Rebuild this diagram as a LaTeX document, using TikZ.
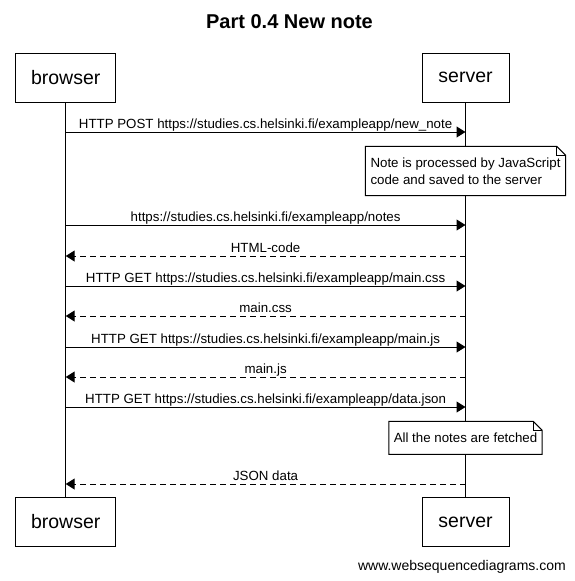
\documentclass[tikz,border=0pt]{standalone}
\usepackage{fontspec}
\setmainfont{Liberation Sans}
\usetikzlibrary{arrows.meta}

\tikzset{
  actor/.style={draw, line width=1pt, minimum height=49pt, inner sep=0pt, font=\fontsize{19.5}{22}\selectfont},
  lifeline/.style={line width=1pt},
  msg/.style={line width=1pt, -{Triangle[length=9pt,width=11pt]}},
  reply/.style={msg, dash pattern=on 6pt off 4pt},
  lbl/.style={font=\fontsize{13.3}{16}\selectfont, inner sep=0pt, anchor=base},
  notebox/.style={fill=white, inner sep=0pt, align=left, font=\fontsize{13.3}{17}\selectfont},
  noteline/.style={line width=1pt},
}

\begin{document}
\begin{tikzpicture}[x=1pt, y=-1pt]
\useasboundingbox (0,0) rectangle (575,581);
\node[font=\bfseries\fontsize{20}{24}\selectfont, inner sep=0pt, anchor=base] (title) at (289.5,28.3) {Part 0.4 New note};
% participants
\node[actor, minimum width=100pt] (browserTop) at (65.7,77.8) {browser};
\node[actor, minimum width=87pt] (serverTop) at (465.5,77.8) {server};
\node[actor, minimum width=100pt] (browserBot) at (65.7,522) {browser};
\node[actor, minimum width=87pt] (serverBot) at (465.5,522) {server};
\draw[lifeline] (browserTop) -- (browserBot); % browser
\draw[lifeline] (serverTop) -- (serverBot); % server
% message rows
\coordinate (b1) at (65.7,132); \coordinate (s1) at (465.5,132); % new_note
\coordinate (b2) at (65.7,225); \coordinate (s2) at (465.5,225); % notes
\coordinate (b3) at (65.7,256); \coordinate (s3) at (465.5,256); % HTML-code
\coordinate (b4) at (65.7,286); \coordinate (s4) at (465.5,286); % main.css
\coordinate (b5) at (65.7,316); \coordinate (s5) at (465.5,316); % main.css back
\coordinate (b6) at (65.7,347); \coordinate (s6) at (465.5,347); % main.js
\coordinate (b7) at (65.7,377); \coordinate (s7) at (465.5,377); % main.js back
\coordinate (b8) at (65.7,407); \coordinate (s8) at (465.5,407); % data.json
\coordinate (b9) at (65.7,484); \coordinate (s9) at (465.5,484); % JSON data
\draw[msg] (b1) -- (s1) node[lbl, pos=0.5, yshift=4pt] {HTTP POST https://studies.cs.helsinki.fi/exampleapp/new\_note};
\draw[msg] (b2) -- (s2) node[lbl, pos=0.5, yshift=4pt] {https://studies.cs.helsinki.fi/exampleapp/notes};
\draw[reply] (s3) -- (b3) node[lbl, pos=0.5, yshift=4pt] {HTML-code};
\draw[msg] (b4) -- (s4) node[lbl, pos=0.5, yshift=4pt] {HTTP GET https://studies.cs.helsinki.fi/exampleapp/main.css};
\draw[reply] (s5) -- (b5) node[lbl, pos=0.5, yshift=4pt] {main.css};
\draw[msg] (b6) -- (s6) node[lbl, pos=0.5, yshift=4pt] {HTTP GET https://studies.cs.helsinki.fi/exampleapp/main.js};
\draw[reply] (s7) -- (b7) node[lbl, pos=0.5, yshift=4pt] {main.js};
\draw[msg] (b8) -- (s8) node[lbl, pos=0.5, yshift=4pt] {HTTP GET https://studies.cs.helsinki.fi/exampleapp/data.json};
\draw[reply] (s9) -- (b9) node[lbl, pos=0.5, yshift=4pt] {JSON data};
% notes
\node[notebox, minimum width=200pt, minimum height=49pt] (note1) at (465.5,171) {Note is processed by JavaScript\\code and saved to the server};
\draw[noteline] (note1.north west) -- ([xshift=-9pt]note1.north east) -- ([yshift=-9pt]note1.north east) -- (note1.south east) -- (note1.south west) -- cycle;
\draw[noteline] ([xshift=-9pt]note1.north east) -- ([xshift=-9pt,yshift=-9pt]note1.north east) -- ([yshift=-9pt]note1.north east);
\node[notebox, minimum width=153pt, minimum height=32.5pt] (note2) at (465.5,437.8) {All the notes are fetched};
\draw[noteline] (note2.north west) -- ([xshift=-9pt]note2.north east) -- ([yshift=-9pt]note2.north east) -- (note2.south east) -- (note2.south west) -- cycle;
\draw[noteline] ([xshift=-9pt]note2.north east) -- ([xshift=-9pt,yshift=-9pt]note2.north east) -- ([yshift=-9pt]note2.north east);
\node[font=\fontsize{14}{16}\selectfont, inner sep=0pt, anchor=base east] (footer) at (566,570) {www.websequencediagrams.com};
\end{tikzpicture}
\end{document}
